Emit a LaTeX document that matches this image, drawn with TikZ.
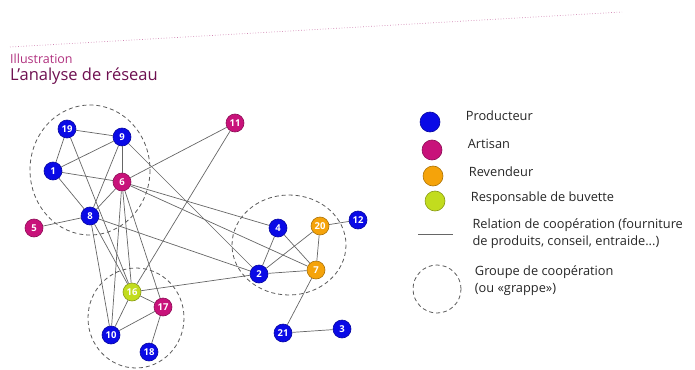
\documentclass[tikz,border=0pt]{standalone}
\usepackage{fontspec}
\setmainfont{Open Sans}
\usetikzlibrary{positioning}
\definecolor{prodblue}{HTML}{0A0AE6}
\definecolor{artmag}{HTML}{C8127A}
\definecolor{revorange}{HTML}{F5A30A}
\definecolor{buvgreen}{HTML}{C2DC1E}
\definecolor{titlemag}{HTML}{B0307E}
\definecolor{titledark}{HTML}{6E1050}
\tikzset{
  actor/.style={circle, draw, line width=0.6pt, minimum size=18pt, inner sep=0pt, text=white, font=\fontsize{9.5}{9.5}\selectfont\bfseries},
  prod/.style={actor, fill=prodblue, draw=prodblue!70!black},
  art/.style={actor, fill=artmag, draw=artmag!70!black},
  rev/.style={actor, fill=revorange, draw=revorange!70!black},
  buv/.style={actor, fill=buvgreen, draw=buvgreen!70!black},
  rel/.style={draw=black!60, line width=0.7pt},
  grp/.style={draw=black!65, line width=0.8pt, dash pattern=on 4pt off 3pt},
  legtext/.style={anchor=west, align=left, font=\fontsize{12.8}{17}\selectfont, text=black!85}
}

\begin{document}
\begin{tikzpicture}[x=1pt, y=-1pt]
    %\draw [help lines] (0, 0) grid (695, 369);
    \useasboundingbox (0,0) rectangle (695,369);

    \coordinate (head_w) at (10,47);
    \coordinate (head_e) at (622,12);
    \draw [titlemag!60, dotted, line width=0.7pt] (head_w) -- (head_e);
    \node [anchor=west, inner sep=0pt, text=titlemag, font=\fontsize{12.5}{13}\selectfont] (title_small) at (10,59) {Illustration};
    \node [anchor=west, inner sep=0pt, text=titledark, font=\fontsize{16.5}{17}\selectfont] (title) at (10,76) {L'analyse de réseau};

    \draw [grp] (90,170) ellipse [x radius=60, y radius=65];
    \draw [grp] (289,245) ellipse [x radius=57, y radius=50];
    \draw [grp] (136,318) ellipse [x radius=48, y radius=50];

    \node [prod] (act_19) at (67,129) {19};
    \node [prod] (act_9) at (122,137) {9};
    \node [prod] (act_1) at (53,171) {1};
    \node [art] (act_6) at (122,182) {6};
    \node [prod] (act_8) at (90,216) {8};
    \node [art] (act_5) at (34,228) {5};
    \node [art] (act_11) at (235,123) {11};
    \node [prod] (act_4) at (278,228) {4};
    \node [rev] (act_20) at (320,226) {20};
    \node [prod] (act_12) at (358,220) {12};
    \node [prod] (act_2) at (259,274) {2};
    \node [rev] (act_7) at (316,270) {7};
    \node [prod] (act_21) at (283,333) {21};
    \node [prod] (act_3) at (342,329) {3};
    \node [buv] (act_16) at (132,292) {16};
    \node [art] (act_17) at (163,307) {17};
    \node [prod] (act_10) at (111,335) {10};
    \node [prod] (act_18) at (149,352) {18};

    \draw [rel] (act_19) -- (act_9);
    \draw [rel] (act_19) -- (act_1);
    \draw [rel] (act_19) -- (act_16);
    \draw [rel] (act_1) -- (act_9);
    \draw [rel] (act_1) -- (act_6);
    \draw [rel] (act_1) -- (act_8);
    \draw [rel] (act_9) -- (act_6);
    \draw [rel] (act_9) -- (act_8);
    \draw [rel] (act_9) -- (act_2);
    \draw [rel] (act_6) -- (act_8);
    \draw [rel] (act_6) -- (act_11);
    \draw [rel] (act_6) -- (act_4);
    \draw [rel] (act_6) -- (act_7);
    \draw [rel] (act_6) -- (act_10);
    \draw [rel] (act_6) -- (act_16);
    \draw [rel] (act_6) -- (act_17);
    \draw [rel] (act_8) -- (act_5);
    \draw [rel] (act_8) -- (act_16);
    \draw [rel] (act_8) -- (act_10);
    \draw [rel] (act_8) -- (act_2);
    \draw [rel] (act_11) -- (act_16);
    \draw [rel] (act_16) -- (act_2);
    \draw [rel] (act_16) -- (act_17);
    \draw [rel] (act_16) -- (act_10);
    \draw [rel] (act_17) -- (act_10);
    \draw [rel] (act_17) -- (act_18);
    \draw [rel] (act_2) -- (act_4);
    \draw [rel] (act_2) -- (act_20);
    \draw [rel] (act_2) -- (act_7);
    \draw [rel] (act_4) -- (act_7);
    \draw [rel] (act_20) -- (act_7);
    \draw [rel] (act_20) -- (act_12);
    \draw [rel] (act_7) -- (act_21);
    \draw [rel] (act_21) -- (act_3);

    \node [prod, minimum size=20pt] (leg_prod) at (430,122) {};
    \node [art, minimum size=20pt] (leg_art) at (432,150) {};
    \node [rev, minimum size=20pt] (leg_rev) at (433,176) {};
    \node [buv, minimum size=20pt] (leg_buv) at (435,201) {};
    \node [legtext, right=22pt of leg_prod, yshift=6pt] (prod_label) {Producteur};
    \node [legtext, right=22pt of leg_art, yshift=6pt] (art_label) {Artisan};
    \node [legtext, right=22pt of leg_rev, yshift=4pt] (rev_label) {Revendeur};
    \node [legtext, right=22pt of leg_buv, yshift=3pt] (buv_label) {Responsable de buvette};

    \coordinate (leg_rel_w) at (418,234);
    \coordinate [right=35pt of leg_rel_w] (leg_rel_e);
    \draw [rel] (leg_rel_w) -- (leg_rel_e);
    \node [legtext, right=16pt of leg_rel_e] (rel_label) {Relation de coopération (fourniture\\de produits, conseil, entraide...)};

    \node [grp, circle, minimum size=48pt] (leg_grp) at (437,289) {};
    \node [legtext, right=10pt of leg_grp, yshift=8pt] (grp_label) {Groupe de coopération\\(ou «grappe»)};
\end{tikzpicture}
\end{document}
